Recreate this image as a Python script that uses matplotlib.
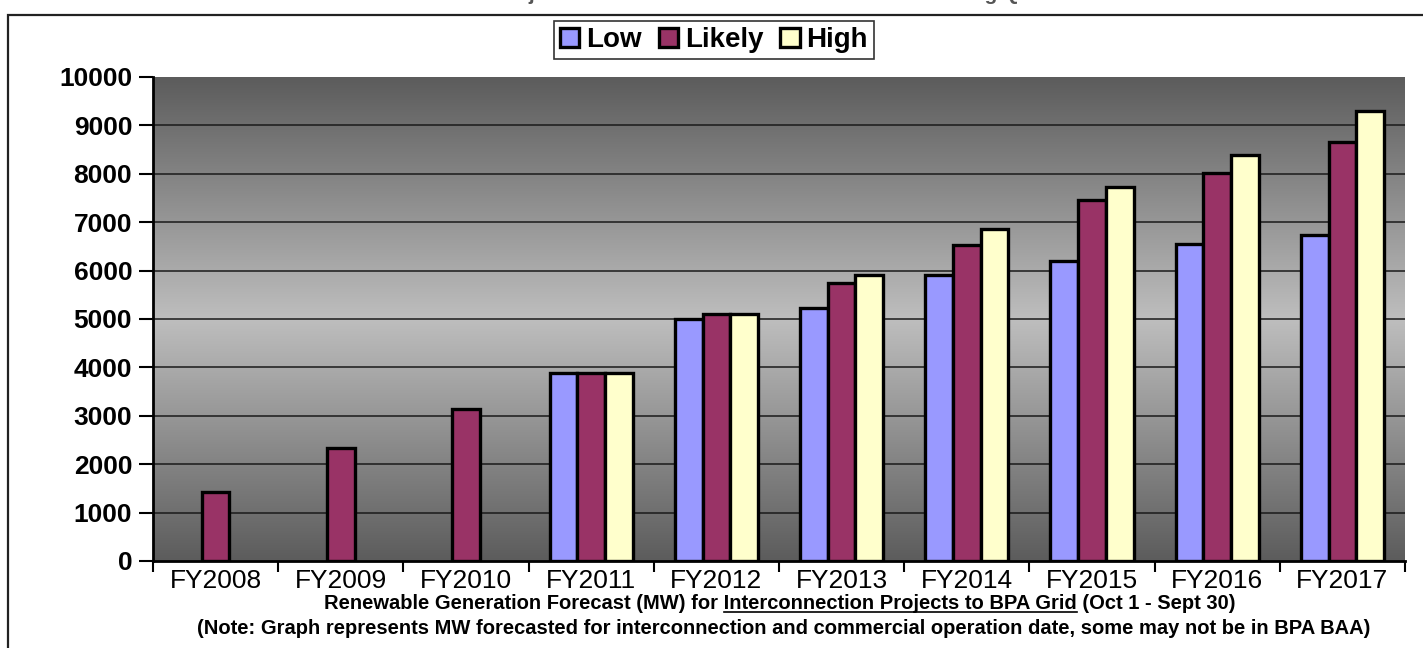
import numpy as np
import matplotlib.pyplot as plt
from matplotlib.colors import LinearSegmentedColormap
from matplotlib.patches import Rectangle
from matplotlib.lines import Line2D

# ------------------------------------------------------------
# Data (MW)
# ------------------------------------------------------------
years = ["FY2008", "FY2009", "FY2010", "FY2011", "FY2012",
         "FY2013", "FY2014", "FY2015", "FY2016", "FY2017"]
low = [np.nan, np.nan, np.nan, 3880, 5010, 5220, 5910, 6190, 6545, 6740]
likely = [1430, 2330, 3140, 3880, 5100, 5740, 6520, 7460, 8010, 8660]
high = [np.nan, np.nan, np.nan, 3880, 5100, 5910, 6850, 7720, 8390, 9290]

series_names = ["Low", "Likely", "High"]
series_colors = ["#9999FF", "#993366", "#FFFFCC"]

yticks = np.arange(0, 10001, 1000)

plt.rcParams["font.family"] = ["Liberation Sans", "DejaVu Sans"]

W, H = 1423, 648
fig = plt.figure(figsize=(W / 100, H / 100), dpi=100)
fig.patch.set_facecolor("white")

# outer chart frame (runs past the right and bottom edges)
fig.patches.append(Rectangle((8 / W, -0.05), 1.1, 1 - 15 / H + 0.05,
                             transform=fig.transFigure, fill=False,
                             ec="#222222", lw=1.6, clip_on=False))

# title, almost entirely cut off at the top edge
fig.text(760 / W, 1 - 0.5 / H,
         "Forecast of Renewable Projects Connected to BPA Grid based on Existing Queue and Recent Trends",
         ha="center", va="baseline", fontsize=15, fontweight="bold", color="#555555")

ax = fig.add_axes([153 / W, 1 - 561 / H, (1405 - 153) / W, (561 - 77) / H])

# gradient background: dark at top and bottom, light in the middle
cmap = LinearSegmentedColormap.from_list(
    "bg", [(0.0, "#5c5c5c"), (0.5, "#bebebe"), (1.0, "#5c5c5c")])
grad = np.linspace(1, 0, 256).reshape(-1, 1)
ax.imshow(grad, extent=[-0.5, 9.5, 0, 10000], aspect="auto", cmap=cmap,
          vmin=0, vmax=1, zorder=0, interpolation="bicubic")

ax.hlines(yticks[1:-1], -0.5, 9.5, color="#1a1a1a", lw=1.1, zorder=1)

x = np.arange(len(years))
bw = 0.222
for k, (vals, name, col) in enumerate(zip([low, likely, high], series_names, series_colors)):
    ax.bar(x + (k - 1) * bw, vals, width=bw, color=col, edgecolor="black",
           linewidth=2.4, label=name, zorder=3)

ax.set_xlim(-0.5, 9.5)
ax.set_ylim(0, 10000)

ax.set_xticks(x)
ax.set_xticklabels(years, fontsize=19)
ax.set_xticks(np.arange(-0.5, 10, 1), minor=True)
ax.tick_params(axis="x", which="major", length=0, pad=6)
ax.tick_params(axis="x", which="minor", length=8, width=1.5, direction="out")

ax.set_yticks(yticks)
ax.set_yticklabels([str(v) for v in yticks], fontsize=19, fontweight="bold")
ax.tick_params(axis="y", length=10, width=1.5, direction="out", pad=5)

for s in ["top", "right"]:
    ax.spines[s].set_visible(False)
ax.spines["left"].set_linewidth(2)
ax.spines["bottom"].set_linewidth(2)
ax.spines["left"].set_zorder(4)
ax.spines["bottom"].set_zorder(4)

leg = ax.legend(loc="center", bbox_to_anchor=(714 / W, 1 - 40 / H),
                bbox_transform=fig.transFigure, ncol=3, frameon=True,
                fancybox=False, edgecolor="black",
                prop={"weight": "bold", "size": 20},
                handlelength=0.7, handleheight=0.7, handletextpad=0.25,
                columnspacing=0.6, borderpad=0.2, borderaxespad=0)
leg.get_frame().set_linewidth(1.2)
for h in leg.legend_handles:
    h.set_linewidth(2.4)

# ------------------------------------------------------------
# Footnote lines (first one has an underlined part)
# ------------------------------------------------------------
foot_kw = dict(fontsize=14.5, fontweight="bold", color="black")
pre = "Renewable Generation Forecast (MW) for "
mid = "Interconnection Projects to BPA Grid"
post = " (Oct 1 - Sept 30)"
full = pre + mid + post

renderer = fig.canvas.get_renderer()


def text_width(s):
    t = fig.text(0, 0, s, **foot_kw)
    w = t.get_window_extent(renderer).width
    t.remove()
    return w


y1 = 1 - 609 / H
fig.text(780 / W, y1, full, ha="center", va="baseline", **foot_kw)
w_full = text_width(full)
adv_pre = text_width("X" + pre + "X") - text_width("XX")
w_mid = text_width(mid)
left = 780 - w_full / 2
fig.add_artist(Line2D([(left + adv_pre) / W, (left + adv_pre + w_mid) / W],
                      [y1 - 3 / H, y1 - 3 / H], transform=fig.transFigure,
                      color="black", lw=1.2))

fig.text(784 / W, 1 - 634 / H,
         "(Note: Graph represents MW forecasted for interconnection and commercial operation date, some may not be in BPA BAA)",
         ha="center", va="baseline", **foot_kw)

fig.savefig("out.png", dpi=100, facecolor="white")
